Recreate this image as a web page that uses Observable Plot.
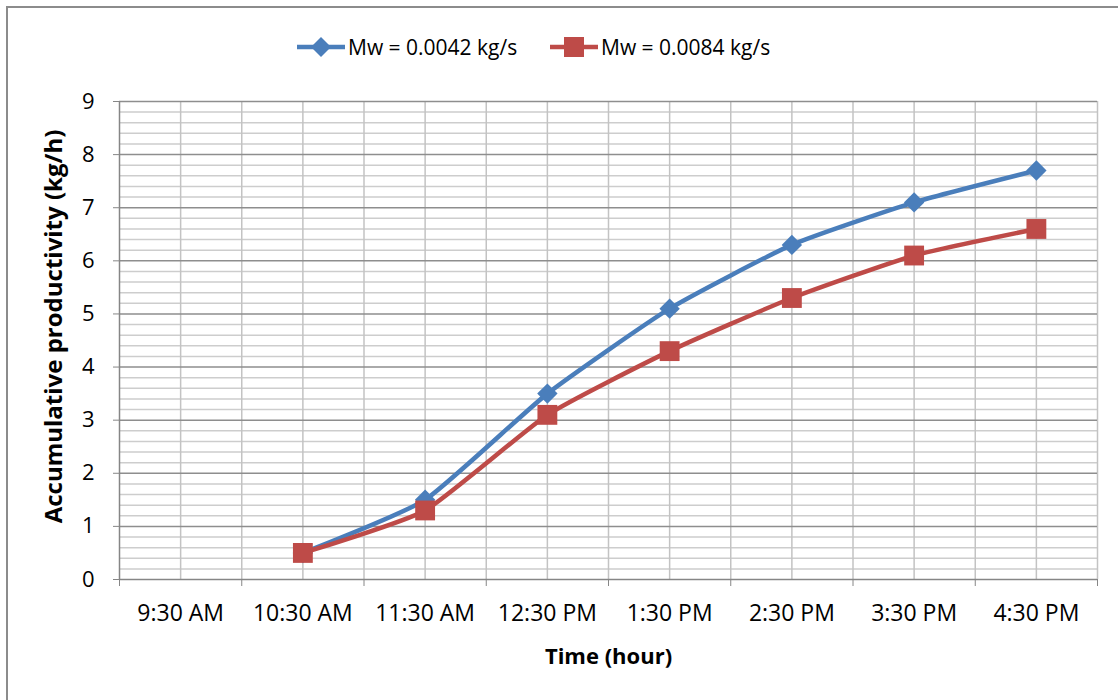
<!DOCTYPE html>
<html>
<head>
<meta charset="utf-8">
<script src="https://cdn.jsdelivr.net/npm/d3@7"></script>
<script src="https://cdn.jsdelivr.net/npm/@observablehq/plot@0.6"></script>
<style>
  html, body { margin: 0; padding: 0; background: #fff; }
  #wrap { position: relative; width: 1118px; height: 700px; overflow: hidden; font-family: "Open Sans", sans-serif; }
  #frame { position: absolute; left: 6px; top: 6px; width: 1300px; height: 900px; border-left: 2px solid #8c8c8c; border-top: 2px solid #8c8c8c; pointer-events: none; }
  #legend { height: 80px; position: relative; }
  .item { position: absolute; top: 31px; height: 32px; display: flex; align-items: center; font-size: 21px; color: #000; white-space: nowrap; }
  .item svg { margin-right: 3px; }
  #chart svg { display: block; }
</style>
</head>
<body>
<div id="wrap">
  <div id="legend"></div>
  <div id="chart"></div>
  <div id="frame"></div>
</div>
<script>
// ---- data ----
const times = ["9:30 AM", "10:30 AM", "11:30 AM", "12:30 PM", "1:30 PM", "2:30 PM", "3:30 PM", "4:30 PM"];
const seriesNames = ["Mw = 0.0042 kg/s", "Mw = 0.0084 kg/s"];
const mw0042 = [null, 0.5, 1.5, 3.5, 5.1, 6.3, 7.1, 7.7];
const mw0084 = [null, 0.5, 1.3, 3.1, 4.3, 5.3, 6.1, 6.6];
const seriesColors = ["#4A7EBB", "#BE4B48"];
const yTicks = [0, 1, 2, 3, 4, 5, 6, 7, 8, 9];

// ---- build table ----
const rows = [];
[mw0042, mw0084].forEach((vals, s) => {
  vals.forEach((v, i) => { if (v != null) rows.push({series: seriesNames[s], i, time: times[i], value: v}); });
});
const blue = rows.filter(d => d.series === seriesNames[0]);
const red = rows.filter(d => d.series === seriesNames[1]);

// gridline positions
const minorY = d3.range(0, 45).map(k => k / 5).filter(v => Math.abs(v - Math.round(v)) > 1e-9);
const majorY = yTicks.filter(v => v > 0);
const halfX = d3.range(0, 16).map(k => k / 2);       // 0 .. 7.5 (skip -0.5 = axis)
const boundsX = d3.range(0, 9).map(k => k - 0.5);     // band boundaries

const chart = Plot.plot({
  width: 1118,
  height: 620,
  marginLeft: 119,
  marginRight: 21,
  marginTop: 21,
  marginBottom: 121,
  style: {fontFamily: "Open Sans, sans-serif", color: "#000", background: "transparent"},
  x: {type: "linear", domain: [-0.5, 7.5]},
  y: {domain: [0, 9]},
  color: {domain: seriesNames, range: seriesColors},
  marks: [
    Plot.ruleY(minorY, {stroke: "#cdcdcd", strokeWidth: 1.5}),
    Plot.ruleX(halfX, {stroke: "#c3c3c3", strokeWidth: 1.5}),
    Plot.ruleY(majorY, {stroke: "#8e8e8e", strokeWidth: 1.5}),
    Plot.ruleX([-0.5], {stroke: "#868686", strokeWidth: 1.5}),
    Plot.ruleY([0], {stroke: "#868686", strokeWidth: 1.5}),
    Plot.axisY({ticks: yTicks, tickSize: 6, tickPadding: 19, fontSize: 22, stroke: "#868686", fill: "#000",
      label: "Accumulative productivity (kg/h)", labelAnchor: "center", labelArrow: "none", labelOffset: 75}),
    Plot.axisX({ticks: boundsX, tickSize: 7, tickFormat: () => "", stroke: "#868686", label: null}),
    Plot.axisX({ticks: d3.range(0, 8), tickSize: 0, tickPadding: 25, fontSize: 23, fill: "#000",
      tickFormat: i => times[i],
      label: "Time (hour)", labelAnchor: "center", labelArrow: "none", labelOffset: 84}),
    Plot.line(blue, {x: "i", y: "value", stroke: "series", strokeWidth: 4.5, curve: "cardinal", tension: 0.5}),
    Plot.dot(blue, {x: "i", y: "value", fill: "series", symbol: "diamond2", r: 9.2}),
    Plot.line(red, {x: "i", y: "value", stroke: "series", strokeWidth: 4.5, curve: "cardinal", tension: 0.5}),
    Plot.dot(red, {x: "i", y: "value", fill: "series", symbol: "square", r: 11.2})
  ]
});
// bold axis titles
chart.querySelectorAll("g[aria-label='y-axis label'] text").forEach(t => {
  t.setAttribute("font-weight", "bold");
  t.setAttribute("font-size", "24");
});
chart.querySelectorAll("g[aria-label='y-axis label']").forEach(g => {
  const prev = g.getAttribute("transform") || "";
  g.setAttribute("transform", (prev + " translate(0,-14)").trim());
});
chart.querySelectorAll("g[aria-label='x-axis label'] text").forEach(t => {
  t.setAttribute("font-weight", "bold");
  t.setAttribute("font-size", "22");
});
document.getElementById("chart").appendChild(chart);

// ---- legend ----
const legend = document.getElementById("legend");
const lefts = [297, 550];
seriesNames.forEach((name, s) => {
  const item = document.createElement("div");
  item.className = "item";
  item.style.left = lefts[s] + "px";
  const marker = s === 0
    ? `<path d="M24,6 L34,16 L24,26 L14,16 Z" fill="${seriesColors[s]}"/>`
    : `<rect x="14" y="6" width="20" height="20" fill="${seriesColors[s]}"/>`;
  item.innerHTML = `<svg width="48" height="32"><line x1="0" y1="16" x2="48" y2="16" stroke="${seriesColors[s]}" stroke-width="4.5"/>${marker}</svg><span>${name}</span>`;
  legend.appendChild(item);
});
</script>
</body>
</html>
